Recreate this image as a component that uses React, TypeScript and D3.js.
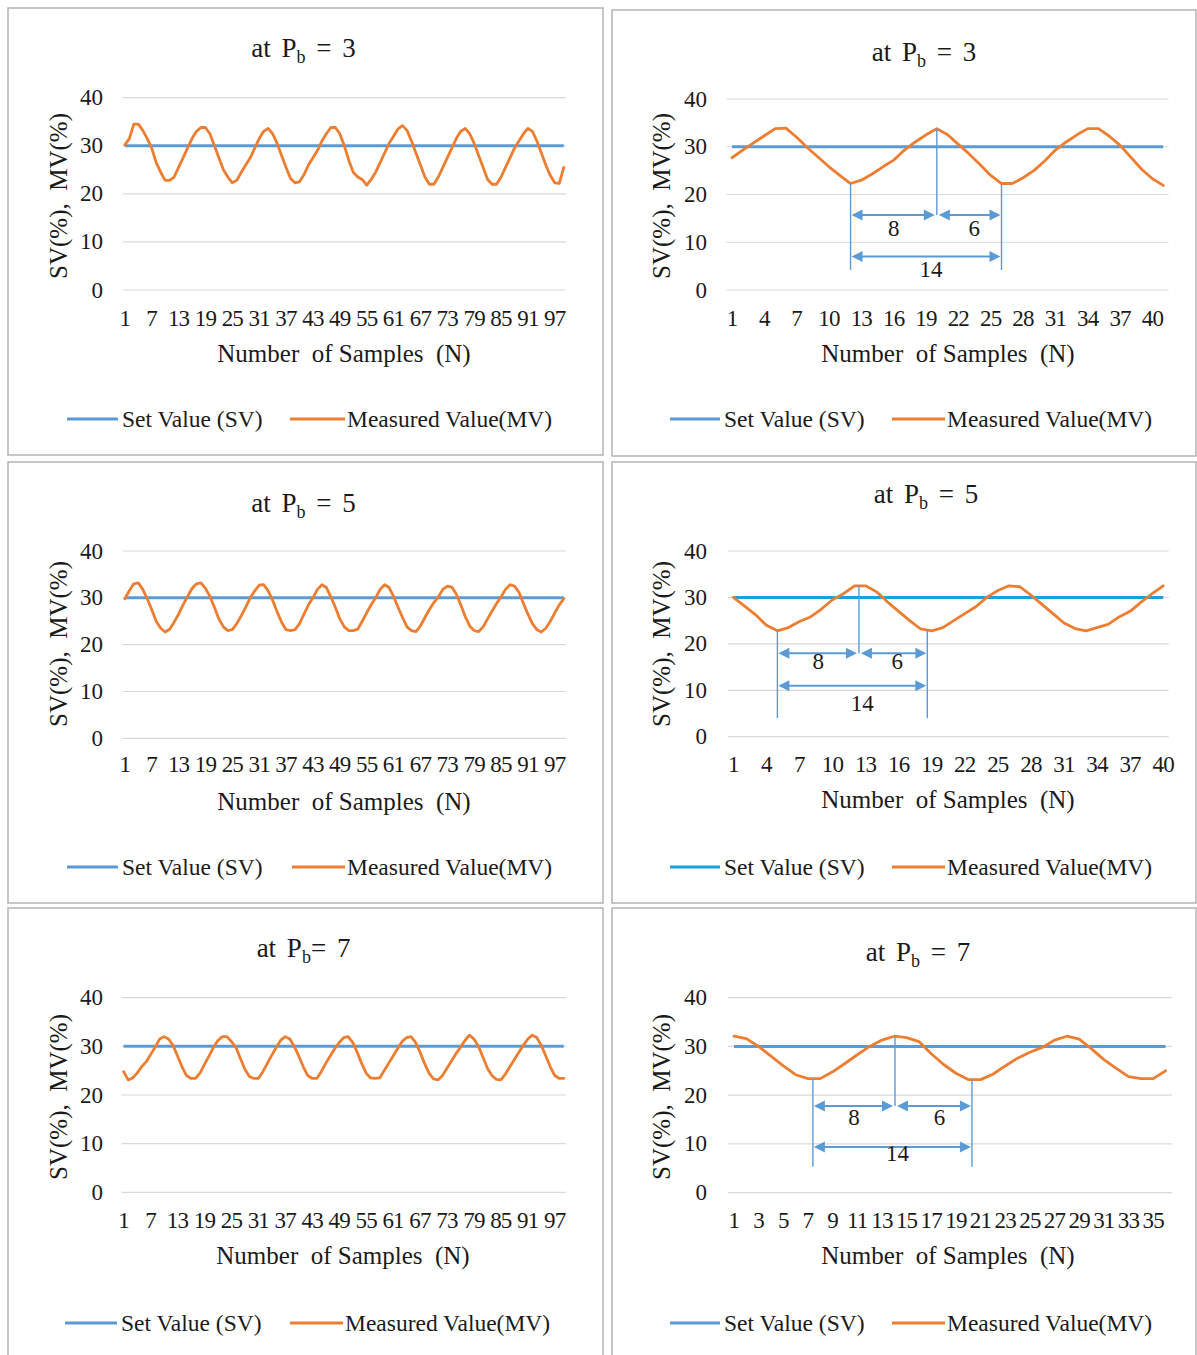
import React from "react";
import * as d3 from "d3";

// ---------- data ----------
const yTickValues = [0, 10, 20, 30, 40];
const xLabelsLong = [1, 7, 13, 19, 25, 31, 37, 43, 49, 55, 61, 67, 73, 79, 85, 91, 97];
const xLabelsShort3 = [1, 4, 7, 10, 13, 16, 19, 22, 25, 28, 31, 34, 37, 40];
const xLabelsShort7 = [1, 3, 5, 7, 9, 11, 13, 15, 17, 19, 21, 23, 25, 27, 29, 31, 33, 35];
const setValues = [30, 30, 30, 30, 30, 30];
const pbValues = ["3", "3", "5", "5", "7", "7"];

const mvPb3Long = [
  30.2, 31.5, 34.5, 34.5, 33.2, 31.5, 29.5, 26.5, 24.5, 22.8,
  22.8, 23.5, 25.5, 27.5, 29.5, 31.5, 33.0, 33.8, 33.8, 32.5,
  30.0, 27.5, 25.0, 23.5, 22.3, 22.8, 24.5, 26.0, 27.5, 29.5,
  31.5, 33.0, 33.6, 32.5, 30.5, 28.0, 25.5, 23.2, 22.3, 22.5,
  24.0, 26.0, 27.5, 29.0, 31.0, 32.5, 33.8, 33.8, 32.5, 30.0,
  27.0, 24.5, 23.5, 23.0, 21.8, 23.0, 24.5, 26.5, 28.5, 30.5,
  32.0, 33.5, 34.2, 33.2, 31.0, 28.5, 26.0, 23.5, 22.0, 22.0,
  23.5, 25.5, 27.5, 29.5, 31.5, 33.0, 33.6, 32.5, 30.5, 28.0,
  25.5, 23.0, 22.0, 22.0, 23.5, 25.5, 27.5, 29.5, 31.0, 32.5,
  33.6, 33.0, 31.0, 28.5, 26.0, 23.8, 22.3, 22.2, 25.5,
];
const mvPb3Short = [
  27.7, 29.3, 30.8, 32.3, 33.8, 33.9, 32.0, 29.8, 27.8, 25.8,
  24.0, 22.3, 23.0, 24.3, 25.8, 27.2, 29.3, 31.0, 32.5, 33.8,
  32.5, 30.5, 28.5, 26.3, 24.0, 22.3, 22.3, 23.5, 25.0, 27.0,
  29.3, 31.0, 32.5, 33.8, 33.8, 32.2, 30.3, 27.8, 25.3, 23.3,
  21.9,
];
const mvPb5Long = [
  29.8, 31.5, 33.0, 33.2, 31.8, 29.8, 27.5, 25.0, 23.5, 22.7,
  23.3, 24.8, 26.5, 28.5, 30.3, 32.0, 33.0, 33.2, 32.0, 30.3,
  28.0, 25.5, 23.8, 23.0, 23.2, 24.5, 26.2, 28.0, 30.0, 31.5,
  32.7, 32.8, 31.5, 29.5, 27.0, 24.8, 23.2, 23.0, 23.2, 24.5,
  26.5, 28.5, 30.0, 31.8, 32.8, 32.2, 30.2, 28.0, 25.5, 23.8,
  23.0, 23.0, 23.3, 25.0, 26.8, 28.5, 30.0, 31.8, 32.8, 32.2,
  30.3, 28.0, 25.8, 23.8, 23.0, 22.8, 24.0, 25.8, 27.5, 29.0,
  30.2, 31.8, 32.5, 32.3, 30.8, 28.5, 26.0, 24.0, 23.0, 22.8,
  23.8, 25.5, 27.2, 28.8, 30.2, 31.8, 32.8, 32.5, 31.2, 28.8,
  26.5, 24.5, 23.2, 22.7, 23.5, 25.0, 26.8, 28.5, 29.8,
];
const mvPb5Short = [
  30.0, 28.2, 26.3, 24.0, 22.8, 23.5, 24.8, 25.8, 27.5, 29.5,
  30.8, 32.5, 32.5, 31.2, 29.0, 27.0, 25.0, 23.2, 22.8, 23.5,
  25.0, 26.5, 28.0, 30.0, 31.5, 32.5, 32.3, 30.5, 28.5, 26.5,
  24.5, 23.3, 22.8, 23.5, 24.2, 25.8, 27.0, 29.0, 30.8, 32.5,
];
const mvPb7Long = [
  24.8, 23.1, 23.5, 24.5, 25.8, 26.8, 28.3, 29.8, 31.5, 32.0,
  31.5, 30.2, 28.0, 25.8, 24.0, 23.4, 23.4, 24.5, 26.3, 28.0,
  29.8, 31.2, 32.0, 32.0, 31.0, 29.8, 27.5, 25.3, 23.8, 23.4,
  23.4, 24.8, 26.5, 28.2, 29.8, 31.3, 32.0, 31.5, 30.0, 28.0,
  25.8, 24.0, 23.4, 23.4, 24.8, 26.5, 28.0, 29.5, 30.8, 31.8,
  32.0, 30.8, 28.8, 26.5, 24.5, 23.5, 23.4, 23.5, 25.0, 26.5,
  28.0, 29.5, 31.0, 31.8, 32.0, 30.8, 28.8, 26.5, 24.5, 23.3,
  23.1, 24.0, 25.5, 27.0, 28.5, 29.8, 31.2, 32.3, 31.5, 30.0,
  27.8, 25.5, 24.0, 23.2, 23.1, 24.3, 25.8, 27.3, 28.8, 30.2,
  31.5, 32.3, 31.8, 30.2, 28.0, 25.8, 24.0, 23.4, 23.4,
];
const mvPb7Short = [
  32.1, 31.6, 30.0, 28.0, 26.0, 24.2, 23.4, 23.4, 24.8, 26.5,
  28.3, 30.0, 31.3, 32.1, 31.8, 31.0, 28.5, 26.3, 24.5, 23.2,
  23.2, 24.3, 26.0, 27.6, 28.8, 29.8, 31.3, 32.1, 31.5, 29.5,
  27.3, 25.5, 23.8, 23.4, 23.4, 25.0,
];

// annotation positions (sample index) trough -> peak -> trough
const annotPb3 = [12, 20, 26];
const annotPb5 = [5, 12.4, 18.6];
const annotPb7 = [7.4, 14.06, 20.3];
const annotLabels = ["8", "6", "14"];

// ---------- style ----------
const FONT = "'Liberation Serif', 'DejaVu Serif', serif";
const MV_COLOR = "#ed7d31";
const SV_COLOR = "#5b9bd5";
const SV_COLOR_BRIGHT = "#17a1df";
const GRID = "#d9d9d9";
const TEXT = "#1a1a1a";
const ANNOT = "#5b9bd5";

type Annot = {
  pos: number[];
  arrowY: number;
  arrow14Y: number;
  vBottom: number;
  labelY: number;
  label14Y: number;
  dx6: number;
  dx14: number;
};

type Layout = {
  border: [number, number, number, number];
  px0: number; px1: number; py0: number; py40: number;
  titleX: number; titleY: number; titleEq: string;
  yTickX: number; xTickY: number;
  xTitleX: number; xTitleY: number;
  yTitleX: number; yTitleY: number;
  legendY: number; legendX: [number, number, number, number, number, number];
  sv: string;
  mv: number[]; svValue: number; pb: string;
  xLabels: number[];
  annot?: Annot;
};

const panels: Layout[] = [
  {
    border: [8, 8, 595, 447], px0: 122.6, px1: 566, py0: 290, py40: 97.7,
    titleX: 303.5, titleY: 57, titleEq: " = ",
    yTickX: 103, xTickY: 326, xTitleX: 344, xTitleY: 362, yTitleX: 59, yTitleY: 196,
    legendY: 419, legendX: [67, 118, 122, 290, 345, 347], sv: SV_COLOR,
    mv: mvPb3Long, svValue: setValues[0], pb: pbValues[0], xLabels: xLabelsLong,
  },
  {
    border: [612, 10, 584, 446], px0: 726.6, px1: 1168.6, py0: 290, py40: 99,
    titleX: 924, titleY: 61, titleEq: " = ",
    yTickX: 707, xTickY: 326, xTitleX: 948, xTitleY: 362, yTitleX: 662, yTitleY: 196,
    legendY: 419, legendX: [670, 720, 724, 892, 945, 947], sv: SV_COLOR,
    mv: mvPb3Short, svValue: setValues[1], pb: pbValues[1], xLabels: xLabelsShort3,
    annot: { pos: annotPb3, arrowY: 15.7, arrow14Y: 7.0, vBottom: 4.2, labelY: 13.0, label14Y: 4.5, dx6: 5, dx14: 5 },
  },
  {
    border: [8, 462, 595, 441], px0: 122.6, px1: 566, py0: 738.3, py40: 551,
    titleX: 303.5, titleY: 512, titleEq: " = ",
    yTickX: 103, xTickY: 772, xTitleX: 344, xTitleY: 810, yTitleX: 59, yTitleY: 644,
    legendY: 867, legendX: [67, 118, 122, 292, 345, 347], sv: SV_COLOR,
    mv: mvPb5Long, svValue: setValues[2], pb: pbValues[2], xLabels: xLabelsLong,
  },
  {
    border: [612, 462, 584, 441], px0: 727.8, px1: 1168.7, py0: 736.7, py40: 551,
    titleX: 926, titleY: 503, titleEq: " = ",
    yTickX: 707, xTickY: 772, xTitleX: 948, xTitleY: 808, yTitleX: 662, yTitleY: 644,
    legendY: 867, legendX: [670, 720, 724, 892, 945, 947], sv: SV_COLOR_BRIGHT,
    mv: mvPb5Short, svValue: setValues[3], pb: pbValues[3], xLabels: xLabelsShort3,
    annot: { pos: annotPb5, arrowY: 18.0, arrow14Y: 11.0, vBottom: 4.0, labelY: 16.2, label14Y: 7.2, dx6: 4, dx14: 10 },
  },
  {
    border: [8, 908, 595, 460], px0: 121.4, px1: 566, py0: 1192.3, py40: 997.7,
    titleX: 303.5, titleY: 957, titleEq: "= ",
    yTickX: 103, xTickY: 1228, xTitleX: 343, xTitleY: 1264, yTitleX: 59, yTitleY: 1097,
    legendY: 1323, legendX: [65, 117, 121, 290, 343, 345], sv: SV_COLOR,
    mv: mvPb7Long, svValue: setValues[4], pb: pbValues[4], xLabels: xLabelsLong,
  },
  {
    border: [612, 908, 584, 460], px0: 727.8, px1: 1171.7, py0: 1192.7, py40: 997.7,
    titleX: 918, titleY: 961, titleEq: " = ",
    yTickX: 707, xTickY: 1228, xTitleX: 948, xTitleY: 1264, yTitleX: 662, yTitleY: 1097,
    legendY: 1323, legendX: [670, 720, 724, 892, 945, 947], sv: SV_COLOR,
    mv: mvPb7Short, svValue: setValues[5], pb: pbValues[5], xLabels: xLabelsShort7,
    annot: { pos: annotPb7, arrowY: 17.8, arrow14Y: 9.4, vBottom: 5.3, labelY: 15.6, label14Y: 8.1, dx6: 6, dx14: 5 },
  },
];

function DoubleArrow({ xa, xb, yy }: { xa: number; xb: number; yy: number }) {
  const hl = 11;
  const hw = 11;
  return (
    <g>
      <line x1={xa + hl - 1} x2={xb - hl + 1} y1={yy} y2={yy} stroke={ANNOT} strokeWidth={2} />
      <path d={`M${xa},${yy}L${xa + hl},${yy - hw / 2}L${xa + hl},${yy + hw / 2}Z`} fill={ANNOT} />
      <path d={`M${xb},${yy}L${xb - hl},${yy - hw / 2}L${xb - hl},${yy + hw / 2}Z`} fill={ANNOT} />
    </g>
  );
}

function Panel({ p }: { p: Layout }) {
  const n = p.mv.length;
  const x = d3.scaleLinear().domain([0.5, n + 0.5]).range([p.px0, p.px1]);
  const y = d3.scaleLinear().domain([0, 40]).range([p.py0, p.py40]);
  const mvLine = d3
    .line<number>()
    .x((_, i) => x(i + 1))
    .y((d) => y(d))
    .curve(d3.curveLinear);
  const svLine = d3
    .line<number>()
    .x((d) => x(d))
    .y(() => y(p.svValue));

  const interp = (pos: number) => {
    const i0 = Math.max(1, Math.min(n - 1, Math.floor(pos)));
    const f = pos - i0;
    const a = p.mv[i0 - 1];
    const b = p.mv[i0];
    return a + (b - a) * f;
  };

  const [b0, b1, b2, b3] = p.border;
  const lx = p.legendX;

  return (
    <g style={{ fontFamily: FONT }} fill={TEXT}>
      <rect x={b0} y={b1} width={b2} height={b3} fill="#fff" stroke="#b4b4b4" strokeWidth={1.5} />
      {/* title */}
      <text x={p.titleX} y={p.titleY} textAnchor="middle" fontSize={27} wordSpacing={4} style={{ whiteSpace: "pre" }}>
        at P<tspan fontSize={18} dy={6}>b</tspan>
        <tspan dy={-6}>{p.titleEq}{p.pb}</tspan>
      </text>
      {/* grid */}
      {yTickValues.map((t) => (
        <line key={"g" + t} x1={p.px0} x2={p.px1} y1={y(t)} y2={y(t)} stroke={GRID} strokeWidth={1.2} />
      ))}
      {/* y ticks */}
      {yTickValues.map((t) => (
        <text key={"yt" + t} x={p.yTickX} y={y(t) + 7.5} textAnchor="end" fontSize={23}>
          {t}
        </text>
      ))}
      {/* x ticks */}
      {p.xLabels.map((t) => (
        <text key={"xt" + t} x={x(t)} y={p.xTickY} textAnchor="middle" fontSize={23} letterSpacing={-0.8}>
          {t}
        </text>
      ))}
      {/* axis titles */}
      <text x={p.xTitleX} y={p.xTitleY} textAnchor="middle" fontSize={25} style={{ whiteSpace: "pre" }}>
        {"Number  of Samples  (N)"}
      </text>
      <text
        transform={`translate(${p.yTitleX + 8},${p.yTitleY}) rotate(-90)`}
        textAnchor="middle"
        fontSize={25}
        style={{ whiteSpace: "pre" }}
      >
        {"SV(%),  MV(%)"}
      </text>
      {/* series */}
      <path d={svLine([1, n]) || ""} stroke={p.sv} strokeWidth={3} fill="none" />
      <path d={mvLine(p.mv) || ""} stroke={MV_COLOR} strokeWidth={2.8} fill="none" strokeLinejoin="round" strokeLinecap="round" />
      {/* annotations */}
      {p.annot && (() => {
        const a = p.annot!;
        const [xl, xm, xr] = a.pos.map((v) => x(v));
        const ay = y(a.arrowY);
        const ay14 = y(a.arrow14Y);
        return (
          <g>
            <line x1={xl} x2={xl} y1={y(interp(a.pos[0]))} y2={y(a.vBottom)} stroke={ANNOT} strokeWidth={1.4} />
            <line x1={xr} x2={xr} y1={y(interp(a.pos[2]))} y2={y(a.vBottom)} stroke={ANNOT} strokeWidth={1.4} />
            <line x1={xm} x2={xm} y1={y(interp(a.pos[1]))} y2={ay} stroke={ANNOT} strokeWidth={1.4} />
            <DoubleArrow xa={xl + 1} xb={xm - 2} yy={ay} />
            <DoubleArrow xa={xm + 2} xb={xr - 1} yy={ay} />
            <DoubleArrow xa={xl + 1} xb={xr - 1} yy={ay14} />
            <text x={(xl + xm) / 2} y={y(a.labelY) + 8} textAnchor="middle" fontSize={23}>{annotLabels[0]}</text>
            <text x={(xm + xr) / 2 + a.dx6} y={y(a.labelY) + 8} textAnchor="middle" fontSize={23}>{annotLabels[1]}</text>
            <text x={(xl + xr) / 2 + a.dx14} y={y(a.label14Y) + 8} textAnchor="middle" fontSize={23}>{annotLabels[2]}</text>
          </g>
        );
      })()}
      {/* legend */}
      <line x1={lx[0]} x2={lx[1]} y1={p.legendY} y2={p.legendY} stroke={p.sv} strokeWidth={3} />
      <text x={lx[2]} y={p.legendY + 8} fontSize={23.5}>Set Value (SV)</text>
      <line x1={lx[3]} x2={lx[4]} y1={p.legendY} y2={p.legendY} stroke={MV_COLOR} strokeWidth={3} />
      <text x={lx[5]} y={p.legendY + 8} fontSize={23.5}>Measured Value(MV)</text>
    </g>
  );
}

export default function App() {
  return (
    <div style={{ position: "absolute", left: 0, top: 0, width: 1197, height: 1355, background: "#fff" }}>
      <svg width={1197} height={1355} style={{ display: "block" }}>
        <rect width={1197} height={1355} fill="#fff" />
        {panels.map((p, k) => (
          <Panel key={k} p={p} />
        ))}
      </svg>
    </div>
  );
}
